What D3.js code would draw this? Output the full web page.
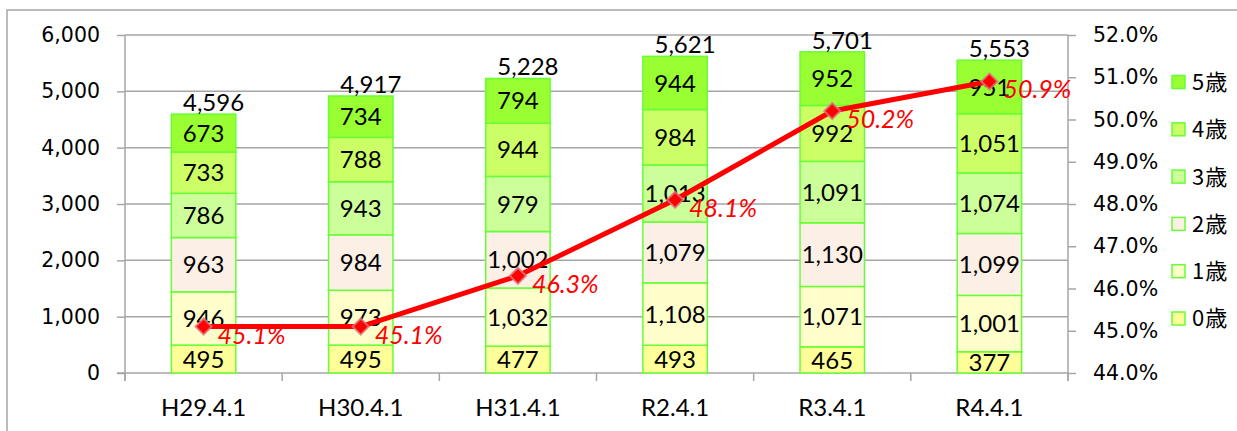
<!DOCTYPE html>
<html>
<head>
<meta charset="utf-8">
<script src="https://cdn.jsdelivr.net/npm/d3@7"></script>
<style>
  body { margin: 0; background: #fff; }
  svg { display: block; }
</style>
</head>
<body>
<svg class="chart" width="1237" height="431"></svg>
<script>
// données
const categories = ["H29.4.1", "H30.4.1", "H31.4.1", "R2.4.1", "R3.4.1", "R4.4.1"];
const age0 = [495, 495, 477, 493, 465, 377];
const age1 = [946, 973, 1032, 1108, 1071, 1001];
const age2 = [963, 984, 1002, 1079, 1130, 1099];
const age3 = [786, 943, 979, 1013, 1091, 1074];
const age4 = [733, 788, 944, 984, 992, 1051];
const age5 = [673, 734, 794, 944, 952, 951];
const rate = [45.1, 45.1, 46.3, 48.1, 50.2, 50.9];
const seriesNames = ["0歳", "1歳", "2歳", "3歳", "4歳", "5歳"];
const leftTicks = [0, 1000, 2000, 3000, 4000, 5000, 6000];
const rightTicks = [44, 45, 46, 47, 48, 49, 50, 51, 52];

const colors = ["#ffff99", "#ffffcc", "#fcefe6", "#ccff99", "#ccff66", "#99ff33"];
const edge = "#66ff33";
const numFont = "Lato, 'Open Sans', sans-serif";
const axisFont = "'DejaVu Sans', Verdana, sans-serif";

const svg = d3.select(".chart");

// cadre extérieur
svg.append("rect").attr("x", 7).attr("y", 10).attr("width", 1300).attr("height", 500)
  .attr("fill", "none").attr("stroke", "#a6a6a6").attr("stroke-width", 1.5);

const pLeft = 125, pRight = 1068, pTop = 35, pBottom = 373;

const x = d3.scaleBand().domain(categories).range([pLeft, pRight]).padding(0);
const y = d3.scaleLinear().domain([0, 6000]).range([pBottom, pTop]);
const y2 = d3.scaleLinear().domain([44, 52]).range([pBottom, pTop]);

const barW = x.bandwidth() * 0.41;
const barX = d => x(d) + (x.bandwidth() - barW) / 2;
const cx = d => x(d) + x.bandwidth() / 2;

// grille
svg.append("g").selectAll("line").data(leftTicks.slice(1)).join("line")
  .attr("x1", pLeft).attr("x2", pRight)
  .attr("y1", d => y(d)).attr("y2", d => y(d))
  .attr("stroke", "#a6a6a6").attr("stroke-width", 1.5);

// axes
const gl = svg.append("g").attr("transform", `translate(${pLeft},0)`)
  .call(d3.axisLeft(y).tickValues(leftTicks).tickFormat(d3.format(",")).tickSize(8).tickPadding(17));
const gr = svg.append("g").attr("transform", `translate(${pRight},0)`)
  .call(d3.axisRight(y2).tickValues(rightTicks).tickFormat(d => d.toFixed(1) + "%").tickSize(8).tickPadding(17));
[gl, gr].forEach(g => {
  g.select(".domain").remove();
  g.selectAll("line").attr("stroke", "#a6a6a6").attr("stroke-width", 1.5);
  g.selectAll("text").attr("font-family", axisFont).attr("font-size", 20.5).attr("fill", "#000");
});
svg.append("line").attr("x1", pLeft).attr("x2", pLeft).attr("y1", pTop).attr("y2", pBottom + 8)
  .attr("stroke", "#a6a6a6").attr("stroke-width", 1.5);
svg.append("line").attr("x1", pRight).attr("x2", pRight).attr("y1", pTop).attr("y2", pBottom + 8)
  .attr("stroke", "#a6a6a6").attr("stroke-width", 1.5);

const gb = svg.append("g").attr("transform", `translate(0,${pBottom})`)
  .call(d3.axisBottom(x).tickSize(0));
gb.select(".domain").remove();
gb.selectAll("text").attr("y", 43).attr("dy", 0)
  .attr("font-family", numFont).attr("font-size", 24).attr("fill", "#000");
svg.append("line").attr("x1", pLeft - 8).attr("x2", pRight).attr("y1", pBottom).attr("y2", pBottom)
  .attr("stroke", "#a6a6a6").attr("stroke-width", 1.5);
svg.append("g").selectAll("line").data(categories.concat(["end"])).join("line")
  .attr("x1", (d, i) => pLeft + i * x.step()).attr("x2", (d, i) => pLeft + i * x.step())
  .attr("y1", pBottom).attr("y2", pBottom + 8)
  .attr("stroke", "#a6a6a6").attr("stroke-width", 1.5);

// barres empilées
const table = categories.map((c, i) => ({
  cat: c, "0歳": age0[i], "1歳": age1[i], "2歳": age2[i], "3歳": age3[i], "4歳": age4[i], "5歳": age5[i]
}));
const stacked = d3.stack().keys(seriesNames)(table);

const layers = svg.append("g").selectAll("g").data(stacked).join("g")
  .attr("fill", (d, i) => colors[i]);
layers.selectAll("rect").data(d => d).join("rect")
  .attr("x", d => barX(d.data.cat)).attr("width", barW)
  .attr("y", d => y(d[1])).attr("height", d => y(d[0]) - y(d[1]))
  .attr("stroke", edge).attr("stroke-width", 1.5);

// ligne du taux
const line = d3.line().x((d, i) => cx(categories[i])).y(d => y2(d));
svg.append("path").datum(rate).attr("d", line)
  .attr("fill", "none").attr("stroke", "#ff0000").attr("stroke-width", 5)
  .attr("stroke-linejoin", "round");

svg.append("g").selectAll("path").data(rate).join("path")
  .attr("d", d3.symbol(d3.symbolSquare, 130))
  .attr("transform", (d, i) => `translate(${cx(categories[i])},${y2(d)}) rotate(45)`)
  .attr("fill", "#ff0000").attr("stroke", "rgba(220,120,130,0.8)").attr("stroke-width", 2);

// étiquettes des segments
layers.selectAll("text").data(d => d).join("text")
  .attr("x", d => cx(d.data.cat))
  .attr("y", d => (y(d[0]) + y(d[1])) / 2)
  .attr("dy", "0.36em")
  .attr("text-anchor", "middle")
  .attr("font-family", numFont).attr("font-size", 24).attr("fill", "#000")
  .text(d => d3.format(",")(d[1] - d[0]));

// totaux
const totals = table.map(r => d3.sum(seriesNames, k => r[k]));
svg.append("g").selectAll("text").data(totals).join("text")
  .attr("x", (d, i) => cx(categories[i]) + 10)
  .attr("y", d => y(d) - 3)
  .attr("text-anchor", "middle")
  .attr("font-family", numFont).attr("font-size", 24).attr("fill", "#000")
  .text(d => d3.format(",")(d));

// étiquettes du taux
svg.append("g").selectAll("text").data(rate).join("text")
  .attr("x", (d, i) => cx(categories[i]) + 14)
  .attr("y", d => y2(d) + 17)
  .attr("font-family", numFont).attr("font-style", "italic")
  .attr("font-size", 25).attr("fill", "#ff0000")
  .text(d => d.toFixed(1) + "%");

// légende
const legend = svg.append("g").selectAll("g").data(seriesNames.slice().reverse()).join("g")
  .attr("transform", (d, i) => `translate(1172,${82 + i * 47.3})`);
legend.append("rect").attr("x", 0).attr("y", -6.5).attr("width", 13).attr("height", 13)
  .attr("fill", d => colors[seriesNames.indexOf(d)]).attr("stroke", edge).attr("stroke-width", 1.5);
legend.append("text").attr("x", 20).attr("dy", "0.36em")
  .attr("font-family", "'Noto Sans CJK JP', sans-serif").attr("font-size", 22)
  .attr("letter-spacing", 1).attr("fill", "#000")
  .text(d => d);
</script>
</body>
</html>
